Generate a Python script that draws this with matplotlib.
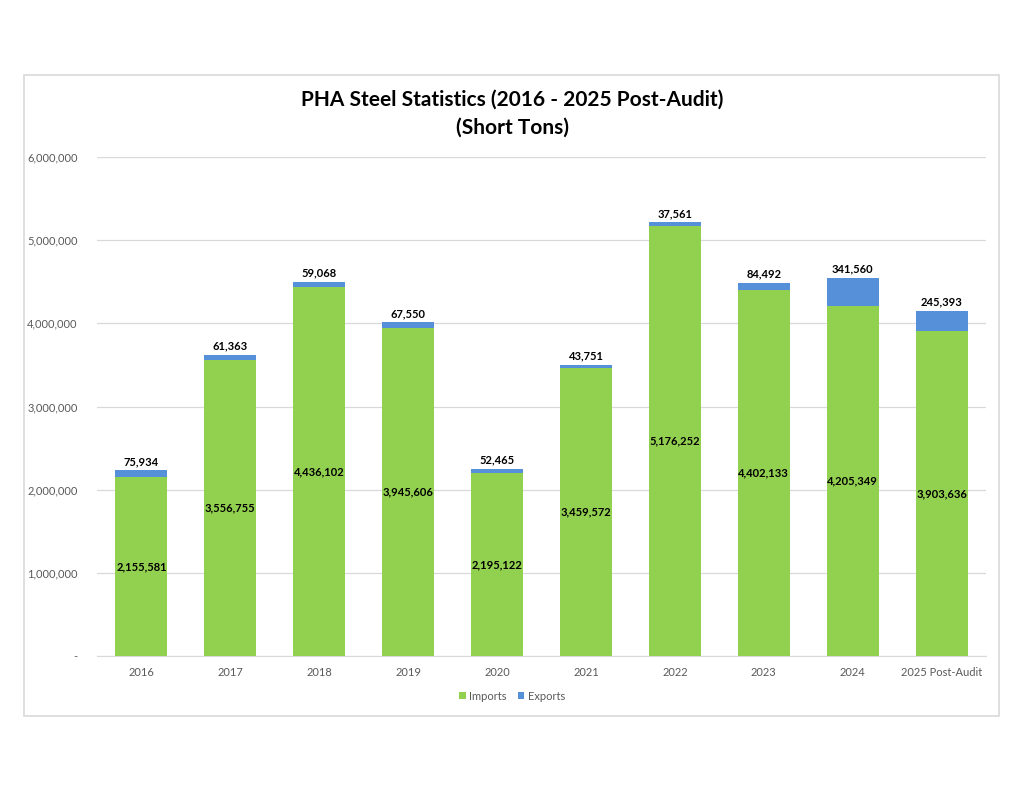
import numpy as np
import matplotlib.pyplot as plt
from matplotlib.patches import Rectangle
from matplotlib.ticker import FuncFormatter

years = ["2016", "2017", "2018", "2019", "2020", "2021", "2022", "2023", "2024", "2025 Post-Audit"]
imports = [2155581, 3556755, 4436102, 3945606, 2195122, 3459572, 5176252, 4402133, 4205349, 3903636]
exports = [75934, 61363, 59068, 67550, 52465, 43751, 37561, 84492, 341560, 245393]

plt.rcParams['font.family'] = ['Lato', 'DejaVu Sans']

fig = plt.figure(figsize=(10.24, 7.91), dpi=100)
fig.patches.append(Rectangle((24 / 1024, 1 - 716 / 791), 975 / 1024, 641 / 791,
                             transform=fig.transFigure, fill=False,
                             edgecolor='#D9D9D9', linewidth=1.2))

ax = fig.add_axes([97 / 1024, 1 - 656 / 791, 889 / 1024, 499 / 791])
x = np.arange(len(years))
w = 0.585
green = '#92D050'
blue = '#5690D8'

ax.bar(x, imports, w, color=green, label='Imports', zorder=3)
ax.bar(x, exports, w, bottom=imports, color=blue, label='Exports', zorder=3)

for i in range(len(years)):
    ax.text(x[i], imports[i] / 2, f"{imports[i]:,}", ha='center', va='center',
            fontsize=8, fontweight='bold', color='black', zorder=4)
    ax.text(x[i], imports[i] + exports[i] + 40000, f"{exports[i]:,}", ha='center', va='bottom',
            fontsize=8, fontweight='bold', color='black', zorder=4)

ax.set_xlim(-0.5, len(years) - 0.5)
ax.set_ylim(0, 6000000)
ax.set_yticks(np.arange(0, 6000001, 1000000))
ax.yaxis.set_major_formatter(FuncFormatter(lambda v, p: '-' if v == 0 else f"{int(v):,}"))
ax.set_xticks(x)
ax.set_xticklabels(years)
ax.tick_params(axis='both', length=0, labelsize=8, labelcolor='#595959')
ax.tick_params(axis='y', pad=14)
ax.tick_params(axis='x', pad=8)
ax.grid(axis='y', color='#D9D9D9', linewidth=0.9, zorder=0)
for s in ['top', 'right', 'left']:
    ax.spines[s].set_visible(False)
ax.spines['bottom'].set_color('#D9D9D9')

fig.text(0.5, 1 - 100 / 791, "PHA Steel Statistics (2016 - 2025 Post-Audit)", ha='center', va='center',
         fontsize=15, fontweight='bold')
fig.text(0.5, 1 - 128 / 791, "(Short Tons)", ha='center', va='center',
         fontsize=15, fontweight='bold')

fig.legend(loc='center', bbox_to_anchor=(0.5, 1 - 696 / 791), ncol=2, frameon=False,
           fontsize=8, labelcolor='#595959', handlelength=0.6, handleheight=0.6,
           handletextpad=0.3, columnspacing=1.0)

fig.savefig('out.png', dpi=100, facecolor='white')
